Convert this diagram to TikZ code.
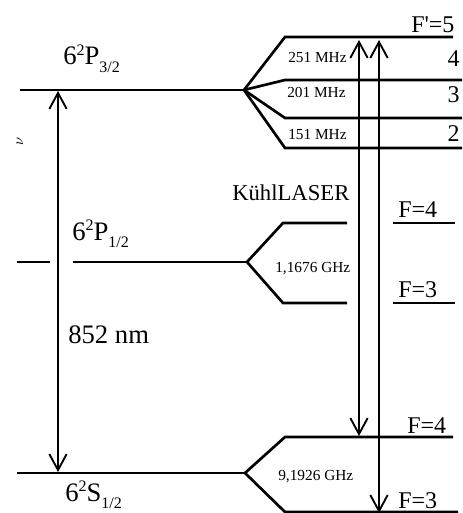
\documentclass[tikz,border=0pt]{standalone}
\usepackage{fontspec}
\setmainfont{Liberation Serif}
\usetikzlibrary{arrows.meta}
\newcommand{\termname}[3]{#1\raisebox{.75ex}{\fontsize{12}{12}\selectfont 2}#2\raisebox{-.6ex}{\fontsize{12}{12}\selectfont #3}}
\tikzset{
  level/.style={line width=2pt},
  trans/.style={line width=1.4pt,{Straight Barb[length=12pt,width=13pt]}-{Straight Barb[length=12pt,width=13pt]}},
  term/.style={anchor=base west,inner sep=0pt,font=\fontsize{20}{22}\selectfont},
  hfs/.style={anchor=base west,inner sep=0pt,font=\fontsize{11.5}{12}\selectfont},
  fnum/.style={inner sep=0pt,font=\fontsize{18}{20}\selectfont},
}
\begin{document}
\begin{tikzpicture}[x=.75pt,y=-.75pt]
\useasboundingbox (0,0) rectangle (462,513);
% fine structure
\coordinate (p32) at (244,90);
\coordinate (p12) at (247,262);
\coordinate (s12) at (245,473);
\draw[level] (20,90) -- (p32);
\draw[level] (17,262) -- (50,262);
\draw[level] (73,262) -- (p12);
\draw[level] (17,473) -- (s12);
% hyperfine 6P3/2
\draw[level] (p32) -- (285,37) -- (453,37);
\draw[level] (p32) -- (285,80) -- (462,80);
\draw[level] (p32) -- (285,118) -- (462,118);
\draw[level] (p32) -- (285,148) -- (462,148);
% hyperfine 6P1/2
\draw[level] (p12) -- (283,223) -- (347,223);
\draw[level] (p12) -- (283,303) -- (347,303);
\draw[level] (393,223) -- (455,223);
\draw[level] (393,303) -- (455,303);
% hyperfine 6S1/2
\draw[level] (s12) -- (285,437) -- (453,437);
\draw[level] (s12) -- (285,512) -- (458,512);
% transitions
\coordinate (d2top) at (58,91);
\coordinate (d2bot) at (58,472);
\coordinate (c5) at (359,40);
\coordinate (c4) at (359,436);
\coordinate (r5) at (379,40);
\coordinate (r3) at (379,513);
\draw[trans] (d2top) -- (d2bot);
\draw[trans] (c5) -- (c4);
\draw[trans] (r5) -- (r3);
% labels
\node[term] (lp32) at (63,65) {\termname{6}{P}{3/2}};
\node[term] (lp12) at (72,240) {\termname{6}{P}{1/2}};
\node[term] (ls12) at (65,501) {\termname{6}{S}{1/2}};
\node[term] (wl) at (68,343) {852 nm};
\node[term,font=\fontsize{17}{19}\selectfont] (kl) at (232,200) {KühlLASER};
\node[rotate=90,font=\fontsize{11}{11}\selectfont] (nu) at (20,141) {$\nu$};
\node[hfs] (m251) at (288,63) {251 MHz};
\node[hfs] (m201) at (287,98) {201 MHz};
\node[hfs] (m151) at (288,140) {151 MHz};
\node[hfs] (g11) at (275,272) {1,1676 GHz};
\node[hfs] (g91) at (278,480) {9,1926 GHz};
\node[fnum,anchor=base west] (fp5) at (411,33) {F\textquotesingle=5};
\node[fnum,anchor=base east] (fp4) at (460,67) {4};
\node[fnum,anchor=base east] (fp3) at (460,103) {3};
\node[fnum,anchor=base east] (fp2) at (460,142) {2};
\node[fnum,anchor=base west] (pf4) at (398,217) {F=4};
\node[fnum,anchor=base west] (pf3) at (398,297) {F=3};
\node[fnum,anchor=base west] (sf4) at (407,433) {F=4};
\node[fnum,anchor=base west] (sf3) at (398,508) {F=3};
\end{tikzpicture}
\end{document}
